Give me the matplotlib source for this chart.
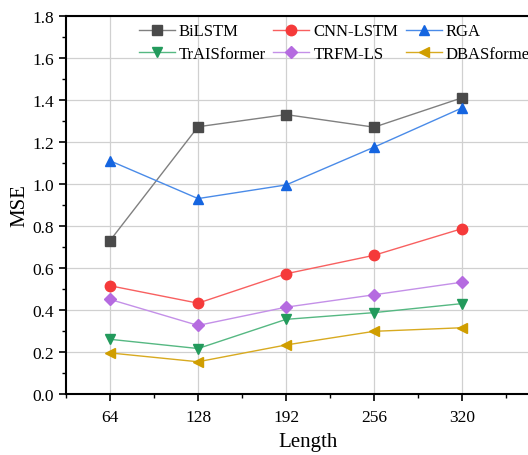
import matplotlib
matplotlib.use("Agg")
import matplotlib.pyplot as plt
from matplotlib.ticker import MultipleLocator, FormatStrFormatter

plt.rcParams['font.family'] = ['Liberation Serif', 'DejaVu Serif']

lengths = [64, 128, 192, 256, 320]
bilstm = [0.73, 1.272, 1.33, 1.27, 1.41]
cnn_lstm = [0.515, 0.432, 0.572, 0.66, 0.787]
rga = [1.11, 0.93, 0.995, 1.175, 1.362]
traisformer = [0.26, 0.216, 0.355, 0.387, 0.43]
trfm_ls = [0.45, 0.326, 0.413, 0.472, 0.532]
dbasformer = [0.195, 0.153, 0.233, 0.298, 0.315]

series = [
    ("BiLSTM", bilstm, "s", "#4a4a4a", "#808080"),
    ("CNN-LSTM", cnn_lstm, "o", "#f53a3a", "#f86060"),
    ("RGA", rga, "^", "#1565e0", "#4a8be8"),
    ("TrAISformer", traisformer, "v", "#239a5c", "#55b882"),
    ("TRFM-LS", trfm_ls, "D", "#b56be0", "#c490e8"),
    ("DBASformer", dbasformer, "<", "#d09e00", "#d8aa20"),
]

fig = plt.figure(figsize=(5.28, 4.56), dpi=100)
ax = fig.add_axes([0.125, 0.134, 0.917, 0.829])

handles = {}
for name, vals, mk, mc, lc in series:
    ms = 6.5 if mk == "D" else 7.5
    h, = ax.plot(lengths, vals, color=lc, lw=1.0, marker=mk, markersize=ms,
                 markerfacecolor=mc, markeredgecolor=mc, label=name, zorder=3)
    handles[name] = h

ax.set_xlim(32, 384)
ax.set_ylim(0, 1.8)
ax.set_xticks(lengths)
ax.xaxis.set_minor_locator(MultipleLocator(32))
ax.yaxis.set_major_locator(MultipleLocator(0.2))
ax.yaxis.set_minor_locator(MultipleLocator(0.1))
ax.yaxis.set_major_formatter(FormatStrFormatter('%.1f'))
ax.grid(True, which='major', color='#d0d0d0', lw=0.9, zorder=0)
ax.tick_params(which='major', direction='out', length=5, width=1.2, labelsize=12.5, colors='black')
ax.tick_params(which='minor', direction='out', length=3, width=1.0)
ax.tick_params(axis='x', pad=6)
for s in ['left', 'bottom', 'top']:
    ax.spines[s].set_linewidth(1.5)
ax.spines['right'].set_visible(False)

ax.set_xlabel("Length", fontsize=15, labelpad=5)
ax.set_ylabel("MSE", fontsize=15, labelpad=2)

# legend filled column by column, so interleave the two rows
order = ["BiLSTM", "TrAISformer", "CNN-LSTM", "TRFM-LS", "RGA", "DBASformer"]
ax.legend([handles[n] for n in order], order, ncol=3, loc='upper left',
          bbox_to_anchor=(0.135, 1.0), frameon=False,
          fontsize=12, handlelength=2.15, columnspacing=0.45, handletextpad=0.25,
          labelspacing=0.4, borderaxespad=0.25, borderpad=0.2)

fig.savefig("out.png", dpi=100)
